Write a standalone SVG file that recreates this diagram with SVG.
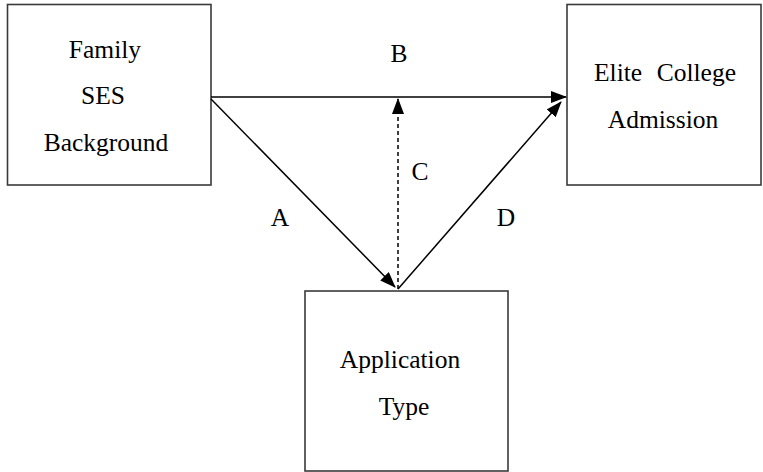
<svg xmlns="http://www.w3.org/2000/svg" width="763" height="472" viewBox="0 0 763 472">
<style>
.box{fill:#fff;stroke:#3a3a3a;stroke-width:1.6}
.t{font-family:"Liberation Serif","Times New Roman",serif;font-size:25.5px;fill:#000}
.c{text-anchor:middle}
.ln{stroke:#000;stroke-width:1.5;fill:none}
.d{stroke-dasharray:4 3}
</style>
<defs>
<marker id="ah" viewBox="0 0 16 12" refX="15" refY="6" markerWidth="16" markerHeight="12" markerUnits="userSpaceOnUse" orient="auto">
<path d="M0,0 L16,6 L0,12 z" fill="#000"/>
</marker>
</defs>
<rect width="763" height="472" fill="#fff"/>
<g id="family">
<rect class="box" x="7.5" y="4.5" width="203.5" height="180.5"/>
<text class="t c" x="105" y="58">Family</text>
<text class="t c" x="103" y="104">SES</text>
<text class="t c" x="106" y="151">Background</text>
</g>
<g id="elite">
<rect class="box" x="567" y="4.5" width="194" height="180.5"/>
<text class="t" x="594" y="81">Elite</text>
<text class="t" x="736" y="81" text-anchor="end">College</text>
<text class="t c" x="663" y="128">Admission</text>
</g>
<g id="application">
<rect class="box" x="305" y="291" width="203" height="180"/>
<text class="t c" x="400" y="368">Application</text>
<text class="t c" x="404" y="415">Type</text>
</g>
<g id="connectors">
<line class="ln" x1="211" y1="97" x2="566" y2="97" marker-end="url(#ah)"/>
<line class="ln" x1="211" y1="99" x2="395" y2="287" marker-end="url(#ah)"/>
<line class="ln d" x1="398" y1="289" x2="398" y2="99" marker-end="url(#ah)"/>
<line class="ln" x1="398" y1="289" x2="561" y2="102" marker-end="url(#ah)"/>
</g>
<g id="labels">
<text class="t c" x="399" y="62">B</text>
<text class="t c" x="420" y="180">C</text>
<text class="t c" x="506" y="226">D</text>
<text class="t c" x="280" y="226">A</text>
</g>
</svg>
